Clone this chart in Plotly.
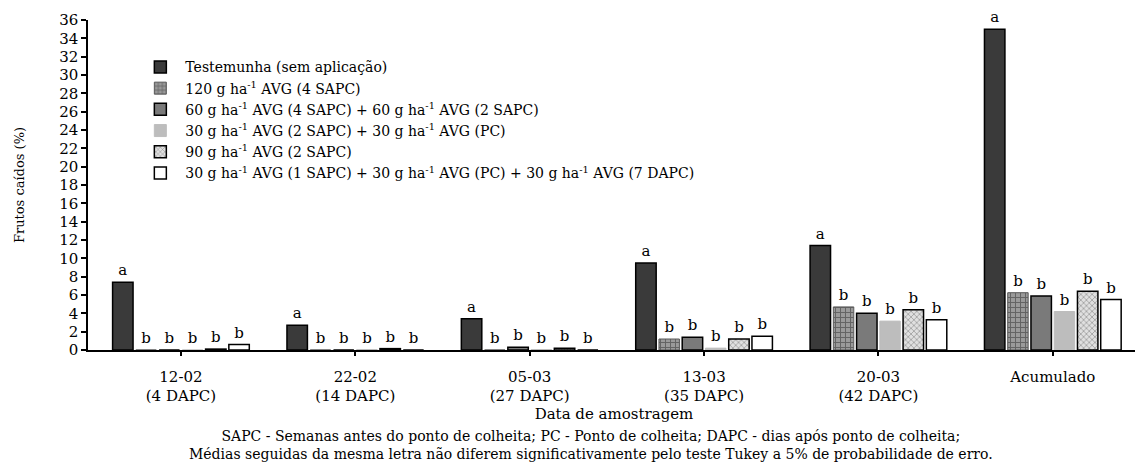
import plotly.graph_objects as go

categories = ["12-02<br>(4 DAPC)", "22-02<br>(14 DAPC)", "05-03<br>(27 DAPC)",
              "13-03<br>(35 DAPC)", "20-03<br>(42 DAPC)", "Acumulado"]

series_names = [
    "Testemunha (sem aplicação)",
    "120 g ha<sup>-1</sup> AVG (4 SAPC)",
    "60 g ha<sup>-1</sup> AVG (4 SAPC) + 60 g ha<sup>-1</sup> AVG (2 SAPC)",
    "30 g ha<sup>-1</sup> AVG (2 SAPC) + 30 g ha<sup>-1</sup> AVG (PC)",
    "90 g ha<sup>-1</sup> AVG (2 SAPC)",
    "30 g ha<sup>-1</sup> AVG (1 SAPC) + 30 g ha<sup>-1</sup> AVG (PC) + 30 g ha<sup>-1</sup> AVG (7 DAPC)",
]

testemunha = [7.4, 2.7, 3.4, 9.5, 11.4, 35.0]
avg120 = [0.0, 0.0, 0.0, 1.2, 4.7, 6.25]
avg60_60 = [0.0, 0.0, 0.3, 1.4, 4.0, 5.9]
avg30_30 = [0.0, 0.05, 0.05, 0.2, 3.15, 4.2]
avg90 = [0.1, 0.15, 0.2, 1.2, 4.4, 6.4]
avg30_30_30 = [0.6, 0.0, 0.0, 1.5, 3.3, 5.5]

letters_testemunha = ["a", "a", "a", "a", "a", "a"]
letters_others = ["b", "b", "b", "b", "b", "b"]

series_values = [testemunha, avg120, avg60_60, avg30_30, avg90, avg30_30_30]

styles = [
    dict(color="#3a3a3a", line=dict(color="#000000", width=1.5)),
    dict(color="#5a5a5a", line=dict(color="#5a5a5a", width=1),
         pattern=dict(shape="+", fgcolor="#2a2a2a", bgcolor="#9a9a9a", size=5, solidity=0.35)),
    dict(color="#7a7a7a", line=dict(color="#000000", width=1.5)),
    dict(color="#bdbdbd", line=dict(color="#bdbdbd", width=1)),
    dict(color="#bbbbbb", line=dict(color="#000000", width=1.5),
         pattern=dict(shape="x", fgcolor="#3a3a3a", bgcolor="#e0e0e0", size=4, solidity=0.3)),
    dict(color="#ffffff", line=dict(color="#000000", width=1.5)),
]

FONT = "DejaVu Serif"

fig = go.Figure()
for i, (name, vals, st) in enumerate(zip(series_names, series_values, styles)):
    letters = letters_testemunha if i == 0 else letters_others
    fig.add_trace(go.Bar(
        x=categories, y=vals, name=name, marker=st,
        text=letters, textposition="outside", cliponaxis=False,
        textfont=dict(family=FONT, size=15, color="black"),
        constraintext="none", textangle=0,
    ))

fig.update_layout(
    width=1135, height=455,
    margin=dict(l=80, r=3, t=10, b=113),
    paper_bgcolor="white", plot_bgcolor="white",
    barmode="group", bargap=0.2, bargroupgap=0.12,
    font=dict(family=FONT, size=15, color="black"),
    showlegend=True,
    legend=dict(x=0.045, y=0.905, xanchor="left", yanchor="top",
                bgcolor="rgba(0,0,0,0)", font=dict(family=FONT, size=14),
                tracegroupgap=0, itemwidth=40),
)

fig.update_xaxes(
    range=[-0.533, 5.5], showline=True, linecolor="black", linewidth=1.5,
    ticks="outside", ticklen=4, tickcolor="black", tickwidth=1.5,
    tickfont=dict(family=FONT, size=15), showgrid=False, ticklabelstandoff=8,
    title=dict(text="Data de amostragem", font=dict(family=FONT, size=15), standoff=4),
)
fig.update_yaxes(
    range=[0, 36], dtick=2, showline=True, linecolor="black", linewidth=1.5,
    ticks="outside", ticklen=5, tickcolor="black", tickwidth=1.5,
    tickfont=dict(family=FONT, size=15), showgrid=False, zeroline=False,
    title=dict(text="Frutos caídos (%)", font=dict(family=FONT, size=13), standoff=32),
)

fig.add_annotation(
    xref="paper", yref="paper", x=0.478, y=-0.288, xanchor="center", yanchor="middle",
    text="SAPC - Semanas antes do ponto de colheita; PC - Ponto de colheita; DAPC - dias após ponto de colheita;<br>"
         "Médias seguidas da mesma letra não diferem significativamente pelo teste Tukey a 5% de probabilidade de erro.",
    showarrow=False, font=dict(family=FONT, size=14), align="center",
)

fig.write_html("out.html")
